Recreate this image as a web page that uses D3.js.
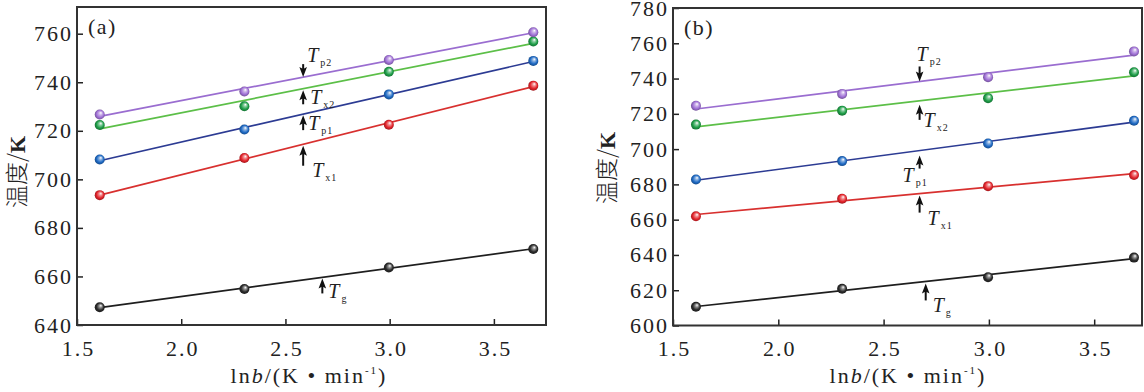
<!DOCTYPE html>
<html lang="zh">
<head>
  <meta charset="UTF-8">
  <title>温度 vs lnb</title>
  <script src="https://cdn.jsdelivr.net/npm/d3@7/dist/d3.min.js"></script>
  <style>
    html, body {
      margin: 0;
      background: #ffffff;
    }
  </style>
</head>
<body>
  <svg id="chart" width="1144" height="392"></svg>

  <script>
    // x values: ln of heating rate (5, 10, 20, 40 K/min)
    const lnb = [1.609, 2.303, 2.996, 3.689]

    // panel (a)
    const aTg  = [647.3, 654.8, 663.7, 671.3]
    const aTx1 = [693.5, 708.8, 722.5, 738.6]
    const aTp1 = [708.2, 720.5, 735.0, 748.8]
    const aTx2 = [722.4, 730.1, 744.3, 756.8]
    const aTp2 = [726.7, 736.2, 749.2, 760.6]

    // panel (b)
    const bTg  = [610.6, 620.8, 627.4, 638.5]
    const bTx1 = [661.9, 671.9, 679.0, 685.3]
    const bTp1 = [682.8, 693.2, 703.2, 716.1]
    const bTx2 = [713.9, 721.8, 728.9, 743.6]
    const bTp2 = [724.6, 731.3, 740.8, 755.4]

    const seriesKeys = ['Tg', 'Tx1', 'Tp1', 'Tx2', 'Tp2']
    const subLabels = { Tg: 'g', Tx1: 'x1', Tp1: 'p1', Tx2: 'x2', Tp2: 'p2' }

    const xTicks = [1.5, 2.0, 2.5, 3.0, 3.5]
    const yTicksA = [640, 660, 680, 700, 720, 740, 760]
    const yTicksB = [600, 620, 640, 660, 680, 700, 720, 740, 760, 780]

    const serif = '"Liberation Serif", "Times New Roman", serif'

    const lineColors = {
      Tg: '#1e1e1e',
      Tx1: '#d8302f',
      Tp1: '#2c3b93',
      Tx2: '#5cbf48',
      Tp2: '#9a6dd0',
    }
    const ballColors = {
      Tg: '#2a2a2a',
      Tx1: '#e3242b',
      Tp1: '#1f6ac4',
      Tx2: '#1e9e48',
      Tp2: '#a071d6',
    }

    const svg = d3.select('#chart')

    // shaded ball markers
    const defs = svg.append('defs')
    seriesKeys.forEach((k) => {
      const g = defs.append('radialGradient')
        .attr('id', 'ball-' + k)
        .attr('cx', '50%').attr('cy', '50%').attr('r', '55%')
        .attr('fx', '62%').attr('fy', '32%')
      g.append('stop').attr('offset', '0%').attr('stop-color', '#ffffff')
      g.append('stop').attr('offset', '30%').attr('stop-color', d3.interpolateRgb('#ffffff', ballColors[k])(0.55))
      g.append('stop').attr('offset', '65%').attr('stop-color', ballColors[k])
      g.append('stop').attr('offset', '100%').attr('stop-color', d3.color(ballColors[k]).darker(1.2))
    })

    const fit = (xs, ys) => {
      const mx = d3.mean(xs)
      const my = d3.mean(ys)
      const sxy = d3.sum(xs, (x, i) => (x - mx) * (ys[i] - my))
      const sxx = d3.sum(xs, x => (x - mx) * (x - mx))
      const k = sxy / sxx
      return x => my + k * (x - mx)
    }

    const panels = [
      {
        label: '(a)',
        left: 77, right: 546, top: 7, bottom: 325,
        xDomain: [1.5, 3.75],
        yDomain: [640, 771],
        yTicks: yTicksA,
        series: { Tg: aTg, Tx1: aTx1, Tp1: aTp1, Tx2: aTx2, Tp2: aTp2 },
        titleX: 17, titleY: 172, xTitleX: 309,
        notes: [
          { key: 'Tp2', at: 2.585, up: false, gap: 0, len: 13, tx: 4, ty: -15 },
          { key: 'Tx2', at: 2.585, up: true, gap: 1.5, len: 14, tx: 7, ty: 15 },
          { key: 'Tp1', at: 2.585, up: true, gap: 1, len: 15, tx: 5, ty: 15.5 },
          { key: 'Tx1', at: 2.585, up: true, gap: 1.5, len: 20, tx: 9, ty: 33 },
          { key: 'Tg', at: 2.677, up: true, gap: 1, len: 15, tx: 6, ty: 21 },
        ],
      },
      {
        label: '(b)',
        left: 673, right: 1142, top: 8, bottom: 325.5,
        xDomain: [1.5, 3.727],
        yDomain: [600, 780],
        yTicks: yTicksB,
        series: { Tg: bTg, Tx1: bTx1, Tp1: bTp1, Tx2: bTx2, Tp2: bTp2 },
        titleX: 607, titleY: 168, xTitleX: 908,
        notes: [
          { key: 'Tp2', at: 2.671, up: false, gap: 0, len: 15, tx: -3, ty: -20 },
          { key: 'Tx2', at: 2.671, up: true, gap: 4, len: 15, tx: 4, ty: 26 },
          { key: 'Tp1', at: 2.671, up: true, gap: 5, len: 13, tx: -17, ty: 31.5 },
          { key: 'Tx1', at: 2.671, up: true, gap: 2, len: 17, tx: 8, ty: 31.5 },
          { key: 'Tg', at: 2.70, up: true, gap: 2, len: 17, tx: 7, ty: 30.5 },
        ],
      },
    ]

    panels.forEach((p) => {
      const x = d3.scaleLinear().domain(p.xDomain).range([p.left, p.right])
      const y = d3.scaleLinear().domain(p.yDomain).range([p.bottom, p.top])
      const g = svg.append('g')

      // y axis (ticks inside)
      const yAxis = g.append('g')
        .attr('transform', `translate(${p.left},0)`)
        .call(d3.axisLeft(y).tickValues(p.yTicks).tickFormat(d3.format('d'))
          .tickSizeInner(-6).tickSizeOuter(0).tickPadding(4))
      yAxis.attr('font-family', null).attr('font-size', null)
      yAxis.select('.domain').remove()
      yAxis.selectAll('line').attr('stroke', '#222').attr('stroke-width', 1.5)
      yAxis.selectAll('text')
        .style('font-family', serif)
        .style('font-size', '22px')
        .attr('letter-spacing', 2)
        .attr('fill', '#222')

      // x axis (ticks inside)
      const xAxis = g.append('g')
        .attr('transform', `translate(0,${p.bottom})`)
        .call(d3.axisBottom(x).tickValues(xTicks).tickFormat(d3.format('.1f'))
          .tickSizeInner(-6).tickSizeOuter(0).tickPadding(15))
      xAxis.attr('font-family', null).attr('font-size', null)
      xAxis.select('.domain').remove()
      xAxis.selectAll('line').attr('stroke', '#222').attr('stroke-width', 1.5)
      xAxis.selectAll('text')
        .style('font-family', serif)
        .style('font-size', '22px')
        .attr('letter-spacing', 2)
        .attr('dx', 1)
        .attr('fill', '#222')

      // frame
      g.append('rect')
        .attr('x', p.left)
        .attr('y', p.top)
        .attr('width', p.right - p.left)
        .attr('height', p.bottom - p.top)
        .attr('fill', 'none')
        .attr('stroke', '#333')
        .attr('stroke-width', 2)

      // panel label
      g.append('text')
        .attr('x', p.left + 11)
        .attr('y', p.top + 27)
        .style('font-family', serif)
        .style('font-size', '22px')
        .attr('letter-spacing', 1.5)
        .attr('fill', '#222')
        .text(p.label)

      // fitted lines + markers
      seriesKeys.forEach((k) => {
        const vals = p.series[k]
        const f = fit(lnb, vals)
        const x0 = lnb[0]
        const x1 = lnb[lnb.length - 1]
        g.append('line')
          .attr('x1', x(x0)).attr('y1', y(f(x0)))
          .attr('x2', x(x1)).attr('y2', y(f(x1)))
          .attr('stroke', lineColors[k])
          .attr('stroke-width', 1.7)

        g.selectAll('.pt-' + k)
          .data(vals)
          .enter()
          .append('circle')
          .attr('class', 'pt-' + k)
          .attr('cx', (d, i) => x(lnb[i]))
          .attr('cy', d => y(d))
          .attr('r', 5)
          .attr('fill', `url(#ball-${k})`)
      })

      // arrows + labels
      p.notes.forEach((n) => {
        const f = fit(lnb, p.series[n.key])
        const ax = x(n.at)
        const ly = y(f(n.at))
        const tip = n.up ? ly + n.gap : ly - n.gap
        const tail = n.up ? tip + n.len : tip - n.len
        const s = n.up ? 1 : -1
        g.append('line')
          .attr('x1', ax).attr('y1', tail)
          .attr('x2', ax).attr('y2', tip + s * 6)
          .attr('stroke', '#111')
          .attr('stroke-width', 2)
        g.append('path')
          .attr('d', `M${ax},${tip} L${ax - 3.8},${tip + s * 10} L${ax},${tip + s * 8} L${ax + 3.8},${tip + s * 10} Z`)
          .attr('fill', '#111')

        const t = g.append('text')
          .attr('x', ax + n.tx)
          .attr('y', ly + n.ty)
          .style('font-family', serif)
          .style('font-size', '20px')
          .attr('fill', '#222')
        t.append('tspan')
          .attr('font-style', 'italic')
          .text('T')
        t.append('tspan')
          .style('font-size', '10px')
          .attr('dx', 2)
          .attr('dy', 4)
          .attr('letter-spacing', 1)
          .text(subLabels[n.key])
      })

      // y title
      const yt = svg.append('text')
        .attr('transform', `translate(${p.titleX},${p.titleY}) rotate(-90)`)
        .attr('text-anchor', 'middle')
        .attr('dy', '0.35em')
        .style('font-size', '23px')
        .attr('fill', '#222')
      yt.append('tspan')
        .style('font-family', '"Noto Sans CJK SC", sans-serif')
        .attr('font-weight', 300)
        .text('温度/')
      yt.append('tspan')
        .style('font-family', serif)
        .attr('font-weight', 'bold')
        .style('font-size', '22px')
        .text('K')

      // x title
      const xt = svg.append('text')
        .attr('x', p.xTitleX)
        .attr('y', 383)
        .attr('text-anchor', 'middle')
        .style('font-family', serif)
        .style('font-size', '22px')
        .attr('letter-spacing', 2)
        .attr('fill', '#222')
      xt.append('tspan').text('ln')
      xt.append('tspan').attr('font-style', 'italic').text('b')
      xt.append('tspan').text('/(K • min')
      xt.append('tspan').style('font-size', '11px').attr('dy', -9).text('-1')
      xt.append('tspan').attr('dy', 9).text(')')
    })
  </script>
</body>
</html>
